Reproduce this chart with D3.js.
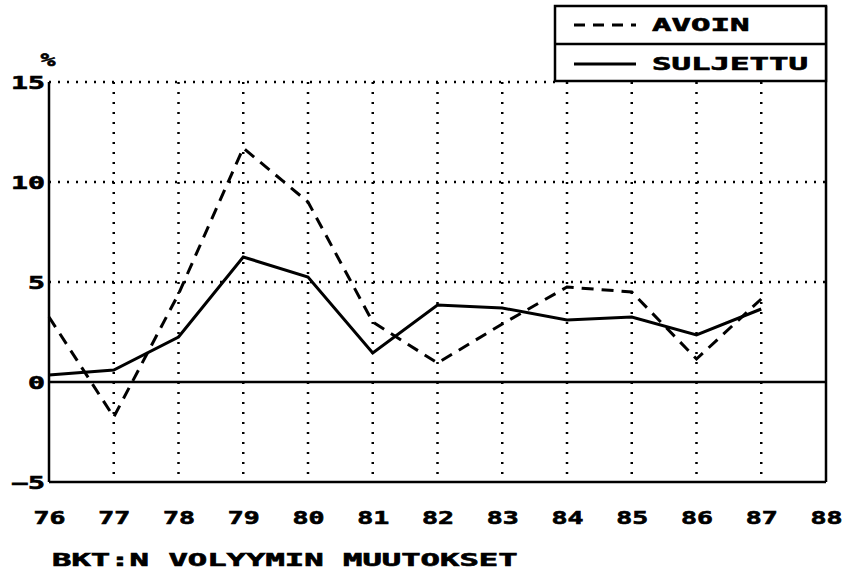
<!DOCTYPE html>
<html lang="fi">
<head>
<meta charset="UTF-8">
<title>BKT:n volyymin muutokset</title>
<script src="https://d3js.org/d3.v7.min.js"></script>
<style>
    body { margin: 0; background: #fff; }
    text { font-family: "DejaVu Sans Mono", monospace; font-weight: bold; fill: #000; stroke: #000; stroke-width: 0.6px; }
</style>
</head>
<body>
<script>
    // data
    var years = [76, 77, 78, 79, 80, 81, 82, 83, 84, 85, 86, 87];
    var avoin = [3.25, -1.75, 4.4, 11.7, 9.0, 3.0, 0.95, 2.9, 4.75, 4.5, 1.15, 4.15];
    var suljettu = [0.35, 0.6, 2.25, 6.25, 5.25, 1.45, 3.85, 3.7, 3.1, 3.25, 2.35, 3.65];
    var xTicks = [76, 77, 78, 79, 80, 81, 82, 83, 84, 85, 86, 87, 88];
    var yTicks = [-5, 0, 5, 10, 15];
    var seriesNames = ["AVOIN", "SULJETTU"];
    var title = "BKT:N VOLYYMIN MUUTOKSET";

    var width = 844, height = 573;
    var svg = d3.select("body").append("svg")
        .attr("width", width)
        .attr("height", height);

    var x = d3.scaleLinear().domain([76, 88]).range([49, 826]);
    var y = d3.scaleLinear().domain([-5, 15]).range([482, 82]);

    // stretch the mono font so it looks like the plotter lettering
    function stretch(sel, charW) {
        sel.attr("textLength", function () { return this.textContent.length * charW; })
            .attr("lengthAdjust", "spacingAndGlyphs");
    }

    // dotted grid
    svg.append("g")
        .selectAll("line")
        .data(yTicks.filter(function (d) { return d > 0; }))
        .enter()
        .append("line")
        .attr("x1", x(76))
        .attr("x2", function (d) { return d == 15 ? 555 : x(88); })
        .attr("y1", function (d) { return y(d); })
        .attr("y2", function (d) { return y(d); })
        .attr("stroke", "#000")
        .attr("stroke-width", 2.5)
        .attr("stroke-dasharray", "2,7");

    svg.append("g")
        .selectAll("line")
        .data(years.slice(1))
        .enter()
        .append("line")
        .attr("x1", function (d) { return x(d); })
        .attr("x2", function (d) { return x(d); })
        .attr("y1", y(15))
        .attr("y2", y(-5))
        .attr("stroke", "#000")
        .attr("stroke-width", 2.5)
        .attr("stroke-dasharray", "2,8");

    // frame: left axis, bottom, zero line, right border
    var frame = svg.append("g").attr("stroke", "#000").attr("stroke-width", 2.5);
    frame.append("line").attr("x1", x(76)).attr("x2", x(76)).attr("y1", y(15)).attr("y2", y(-5));
    frame.append("line").attr("x1", x(76)).attr("x2", x(88)).attr("y1", y(-5)).attr("y2", y(-5));
    frame.append("line").attr("x1", x(76)).attr("x2", x(88)).attr("y1", y(0)).attr("y2", y(0));
    frame.append("line").attr("x1", x(88)).attr("x2", x(88)).attr("y1", 6).attr("y2", y(-5));

    // y axis labels
    var yAxis = svg.append("g")
        .attr("transform", "translate(45,0)")
        .call(d3.axisLeft(y).tickValues(yTicks).tickSize(0).tickPadding(0).tickFormat(d3.format("d")));
    yAxis.select(".domain").remove();
    yAxis.selectAll("text")
        .attr("font-size", 17)
        .attr("font-family", null)
        .attr("dy", "0.36em")
        .call(stretch, 17);

    svg.append("text")
        .attr("x", 48)
        .attr("y", 66)
        .attr("text-anchor", "middle")
        .attr("font-size", 18)
        .text("%")
        .call(stretch, 15);

    // x axis labels
    var xAxis = svg.append("g")
        .attr("transform", "translate(0,524)")
        .call(d3.axisBottom(x).tickValues(xTicks).tickSize(0).tickPadding(0).tickFormat(d3.format("d")));
    xAxis.select(".domain").remove();
    xAxis.selectAll("text")
        .attr("font-size", 17)
        .attr("font-family", null)
        .attr("dy", 0)
        .call(stretch, 16);

    // lines
    var line = d3.line()
        .x(function (d, i) { return x(years[i]); })
        .y(function (d) { return y(d); });

    svg.append("path")
        .datum(avoin)
        .attr("d", line)
        .attr("fill", "none")
        .attr("stroke", "#000")
        .attr("stroke-width", 3)
        .attr("stroke-dasharray", "12,8");

    svg.append("path")
        .datum(suljettu)
        .attr("d", line)
        .attr("fill", "none")
        .attr("stroke", "#000")
        .attr("stroke-width", 3);

    // legend box
    var legend = svg.append("g");
    legend.append("rect")
        .attr("x", 555).attr("y", 6)
        .attr("width", x(88) - 555).attr("height", 75)
        .attr("fill", "#fff")
        .attr("stroke", "#000")
        .attr("stroke-width", 2.5);
    legend.append("line")
        .attr("x1", 555).attr("x2", x(88)).attr("y1", 44).attr("y2", 44)
        .attr("stroke", "#000").attr("stroke-width", 2.5);

    var rows = legend.selectAll("g.row")
        .data(seriesNames)
        .enter()
        .append("g")
        .attr("class", "row")
        .attr("transform", function (d, i) { return "translate(0," + (i * 39) + ")"; });

    rows.append("line")
        .attr("x1", 574).attr("x2", 636)
        .attr("y1", 25).attr("y2", 25)
        .attr("stroke", "#000")
        .attr("stroke-width", 3)
        .attr("stroke-dasharray", function (d, i) { return i == 0 ? "11,8" : null; });

    rows.append("text")
        .attr("x", 652)
        .attr("y", 31)
        .attr("font-size", 17)
        .text(function (d) { return d; })
        .call(stretch, 19.5);

    // title under the chart
    svg.append("text")
        .attr("x", 52)
        .attr("y", 566)
        .attr("font-size", 17)
        .text(title)
        .call(stretch, 19.4);
</script>
</body>
</html>
